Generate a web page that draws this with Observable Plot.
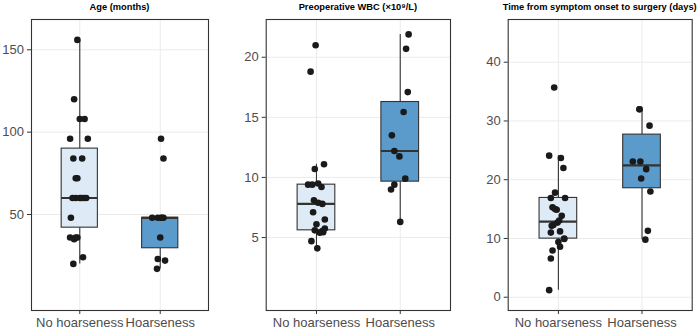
<!DOCTYPE html>
<html>
<head>
<meta charset="utf-8">
<script src="https://cdn.jsdelivr.net/npm/d3@7"></script>
<script src="https://cdn.jsdelivr.net/npm/@observablehq/plot@0.6"></script>
<style>
  body { margin: 0; background: #fff; font-family: "Liberation Sans", Arial, sans-serif; }
  #chart { position: relative; width: 700px; height: 330px; overflow: hidden; }
  .panel { position: absolute; top: 0; }
  .title { position: absolute; top: 0.5px; height: 12px; line-height: 12px; font-size: 9.3px; font-weight: bold; color: #000; text-align: center; white-space: nowrap; }
</style>
</head>
<body>
<div id="chart"></div>
<script>
// Groups shown on every x axis
const groups = ["No hoarseness", "Hoarseness"];
const boxFills = ["#deebf7", "#5a9bcb"];

// Panel titles
const titles = ["Age (months)", "Preoperative WBC (\u00d710\u2079/L)", "Time from symptom onset to surgery (days)"];

// Age (months)
const ageNo = [156, 120, 108, 108, 96, 96, 84, 84, 72, 72, 60, 60, 60, 60, 60, 60, 48, 36, 35, 36, 36, 24, 20];
const ageNoJitter = [-0.03, -0.07, 0.00, 0.06, -0.12, 0.10, -0.08, 0.03, -0.05, -0.03, -0.09, -0.05, 0.00, 0.05, 0.08, 0.02, -0.11, -0.12, -0.07, -0.03, -0.05, 0.04, -0.08];
const ageHo = [96, 84, 48, 48, 48, 48, 48, 36, 23, 22, 17];
const ageHoJitter = [0.01, 0.04, -0.10, -0.03, 0.01, 0.04, 0.02, 0.00, -0.03, 0.06, -0.04];
const ageTicks = [50, 100, 150];

// Preoperative WBC (x10^9/L)
const wbcNo = [21.0, 18.8, 11.1, 10.7, 9.4, 9.4, 9.5, 9.2, 8.1, 7.9, 7.8, 7.1, 6.5, 6.1, 5.75, 5.6, 5.55, 5.45, 5.4, 4.7, 4.1];
const wbcNoJitter = [-0.01, -0.07, 0.09, -0.02, -0.10, -0.05, 0.02, 0.06, -0.03, 0.02, 0.07, -0.04, 0.10, 0.00, 0.10, -0.02, 0.07, 0.08, 0.04, -0.06, 0.01];
const wbcHo = [21.9, 20.7, 17.1, 15.45, 13.5, 12.2, 11.75, 9.9, 9.4, 9.0, 6.3];
const wbcHoJitter = [0.10, 0.07, 0.09, 0.04, -0.10, -0.07, -0.01, 0.06, -0.07, -0.11, 0.00];
const wbcTicks = [5, 10, 15, 20];

// Time from symptom onset to surgery (days)
const timeNo = [35.7, 24.1, 23.7, 22.0, 17.8, 16.9, 16.9, 15.3, 15.0, 14.9, 13.85, 13.05, 12.7, 12.3, 12.15, 11.2, 11.0, 10.0, 9.9, 9.4, 8.6, 7.95, 6.6, 1.2];
const timeNoJitter = [-0.05, -0.11, 0.03, 0.06, -0.04, -0.09, 0.08, -0.07, -0.04, -0.02, 0.04, 0.01, -0.01, -0.06, -0.08, 0.02, -0.09, 0.07, 0.07, 0.00, 0.02, -0.07, -0.09, -0.11];
const timeHo = [32, 32, 29.2, 23.1, 23.1, 21.8, 20.2, 18.0, 11.3, 9.8];
const timeHoJitter = [-0.03, -0.03, 0.09, -0.11, -0.02, 0.05, -0.01, 0.10, 0.07, 0.04];
const timeTicks = [0, 10, 20, 30, 40];

const font = '"Liberation Sans", Arial, sans-serif';
const boxHalf = 0.225;

// Tukey box statistics (R type-7 quantiles, whiskers at 1.5 IQR)
function boxStats(values, i) {
  const s = d3.sort(values);
  const q1 = d3.quantile(s, 0.25), med = d3.quantile(s, 0.5), q3 = d3.quantile(s, 0.75);
  const iqr = q3 - q1;
  const lo = d3.min(s.filter(v => v >= q1 - 1.5 * iqr));
  const hi = d3.max(s.filter(v => v <= q3 + 1.5 * iqr));
  return {x: i + 1, q1, med, q3, lo, hi, fill: boxFills[i]};
}

function panel({series, jitters, yDomain, yTicks, title, left, width, marginLeft, marginRight}) {
  const stats = series.map(boxStats);
  const points = series.flatMap((vals, g) => vals.map((v, k) => ({x: g + 1 + jitters[g][k], y: v})));

  const svg = Plot.plot({
    width, height: 330,
    marginLeft, marginRight, marginTop: 19, marginBottom: 20,
    style: {fontFamily: font, fontSize: "13px", background: "transparent", overflow: "visible"},
    x: {domain: [0.4, 2.6], label: null},
    y: {domain: yDomain, label: null},
    color: {type: "identity"},
    marks: [
      Plot.gridY(yTicks, {stroke: "#ebebeb", strokeOpacity: 1, strokeWidth: 1}),
      Plot.gridX([1, 2], {stroke: "#ebebeb", strokeOpacity: 1, strokeWidth: 1}),
      Plot.ruleX(stats, {x: "x", y1: "lo", y2: "q1", stroke: "#333", strokeWidth: 1.1}),
      Plot.ruleX(stats, {x: "x", y1: "q3", y2: "hi", stroke: "#333", strokeWidth: 1.1}),
      Plot.rect(stats, {x1: d => d.x - boxHalf, x2: d => d.x + boxHalf, y1: "q1", y2: "q3", fill: "fill", stroke: "#333", strokeWidth: 1.1}),
      Plot.ruleY(stats, {y: "med", x1: d => d.x - boxHalf, x2: d => d.x + boxHalf, stroke: "#333", strokeWidth: 2.2}),
      Plot.dot(points, {x: "x", y: "y", r: 3.3, fill: "#1a1a1a", stroke: null}),
      Plot.frame({stroke: "#333", strokeWidth: 1.1}),
      Plot.axisY(yTicks, {tickSize: 4, tickPadding: 3.5, fontSize: 13, stroke: "#333", fill: "#4d4d4d", label: null}),
      Plot.axisX([1, 2], {tickSize: 4, tickPadding: 3, fontSize: 13, stroke: "#333", fill: "#4d4d4d", label: null, tickFormat: i => groups[i - 1]})
    ]
  });
  svg.classList.add("panel");
  svg.style.left = left + "px";

  const t = document.createElement("div");
  t.className = "title";
  t.textContent = title;
  const cx = left + marginLeft + (width - marginLeft - marginRight) / 2;
  t.style.left = (cx - 150) + "px";
  t.style.width = "300px";

  const chart = document.getElementById("chart");
  chart.appendChild(svg);
  chart.appendChild(t);
}

panel({series: [ageNo, ageHo], jitters: [ageNoJitter, ageHoJitter], yDomain: [-8.3, 168.4], yTicks: ageTicks,
       title: titles[0], left: 0, width: 215, marginLeft: 31, marginRight: 7});
panel({series: [wbcNo, wbcHo], jitters: [wbcNoJitter, wbcHoJitter], yDomain: [-1.07, 23.14], yTicks: wbcTicks,
       title: titles[1], left: 230, width: 225, marginLeft: 35.7, marginRight: 5});
panel({series: [timeNo, timeHo], jitters: [timeNoJitter, timeHoJitter], yDomain: [-2.26, 47.27], yTicks: timeTicks,
       title: titles[2], left: 460, width: 240, marginLeft: 47.7, marginRight: 8.3});
</script>
</body>
</html>
